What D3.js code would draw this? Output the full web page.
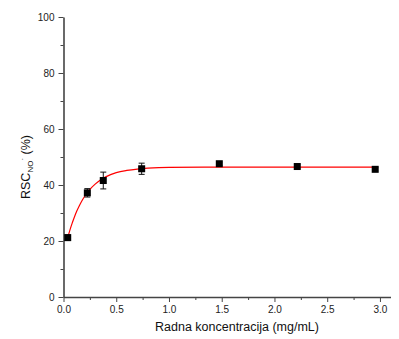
<!DOCTYPE html>
<html>
<head>
<meta charset="utf-8">
<script src="https://cdn.jsdelivr.net/npm/d3@7"></script>
<style>
  body { margin: 0; background: #fff; }
  text { font-family: "Liberation Sans", Arial, sans-serif; }
</style>
</head>
<body>
<svg width="399" height="339"></svg>
<script>
// measured points
const conc = [0.04, 0.226, 0.377, 0.741, 1.477, 2.216, 2.955];
const rsc = [21.2, 37.2, 41.6, 45.8, 47.6, 46.6, 45.6];
const rscErr = [1.0, 1.5, 3.0, 2.0, 0.6, 0.6, 0.6];

// fitted curve
const fitX = [0.04, 0.06, 0.08, 0.1, 0.125, 0.15, 0.175, 0.2, 0.25, 0.3, 0.35, 0.4, 0.5, 0.6, 0.7, 0.8, 1.0, 1.5, 2.0, 2.5, 2.96];
const fitY = [21.2, 23.8, 26.1, 28.2, 30.6, 32.6, 34.4, 35.9, 38.4, 40.3, 41.8, 42.9, 44.4, 45.2, 45.7, 46.0, 46.3, 46.4, 46.4, 46.4, 46.4];

const xTicks = [0.0, 0.5, 1.0, 1.5, 2.0, 2.5, 3.0];
const xMinor = [0.25, 0.75, 1.25, 1.75, 2.25, 2.75];
const yTicks = [0, 20, 40, 60, 80, 100];
const yMinor = [10, 30, 50, 70, 90];

const svg = d3.select("svg");
const plotLeft = 63.5, plotRight = 390.5, plotTop = 17, plotBottom = 297;

const x = d3.scaleLinear().domain([0, 3.1]).range([plotLeft, plotRight]);
const y = d3.scaleLinear().domain([0, 100]).range([plotBottom, plotTop]);

// x axis
svg.append("g").attr("transform", `translate(0,${plotBottom})`)
    .call(d3.axisBottom(x).tickValues(xTicks).tickFormat(d3.format(".1f")).tickSize(5).tickSizeOuter(0).tickPadding(4));
svg.append("g").attr("transform", `translate(0,${plotBottom})`)
    .call(d3.axisBottom(x).tickValues(xMinor).tickFormat("").tickSize(3).tickSizeOuter(0))
    .select(".domain").remove();

// y axis
svg.append("g").attr("transform", `translate(${plotLeft},0)`)
    .call(d3.axisLeft(y).tickValues(yTicks).tickSize(5).tickSizeOuter(0).tickPadding(4));
svg.append("g").attr("transform", `translate(${plotLeft},0)`)
    .call(d3.axisLeft(y).tickValues(yMinor).tickFormat("").tickSize(3).tickSizeOuter(0))
    .select(".domain").remove();

svg.selectAll(".domain").attr("stroke", "#444").attr("stroke-width", 1.6);
svg.selectAll(".tick line").attr("stroke", "#444").attr("stroke-width", 1);
svg.selectAll(".tick text").attr("font-size", 10).attr("fill", "#222")
    .attr("font-family", "Liberation Sans, Arial, sans-serif");

// axis titles
svg.append("text")
    .attr("x", 237).attr("y", 331)
    .attr("text-anchor", "middle")
    .attr("font-size", 12.5)
    .attr("fill", "#111")
    .text("Radna koncentracija (mg/mL)");

const yl = svg.append("text")
    .attr("transform", "translate(30,167) rotate(-90)")
    .attr("text-anchor", "middle")
    .attr("font-size", 12.5)
    .attr("fill", "#111");
yl.append("tspan").text("RSC");
yl.append("tspan").attr("font-size", 8).attr("dy", 3).text("NO");
yl.append("tspan").attr("font-size", 8).attr("dy", -8).text("·");
yl.append("tspan").attr("dy", 5).text(" (%)");

// fit line
const line = d3.line().x(d => x(d[0])).y(d => y(d[1])).curve(d3.curveMonotoneX);
svg.append("path")
    .datum(fitX.map((v, i) => [v, fitY[i]]))
    .attr("fill", "none")
    .attr("stroke", "#f00")
    .attr("stroke-width", 1.2)
    .attr("d", line);

// error bars
const pts = conc.map((c, i) => ({x: c, y: rsc[i], e: rscErr[i]}));
const eb = svg.append("g").attr("stroke", "#111").attr("stroke-width", 1);
eb.selectAll("line.v").data(pts).join("line").attr("class", "v")
    .attr("x1", d => x(d.x)).attr("x2", d => x(d.x))
    .attr("y1", d => y(d.y + d.e)).attr("y2", d => y(d.y - d.e));
eb.selectAll("line.t").data(pts).join("line").attr("class", "t")
    .attr("x1", d => x(d.x) - 3).attr("x2", d => x(d.x) + 3)
    .attr("y1", d => y(d.y + d.e)).attr("y2", d => y(d.y + d.e));
eb.selectAll("line.b").data(pts).join("line").attr("class", "b")
    .attr("x1", d => x(d.x) - 3).attr("x2", d => x(d.x) + 3)
    .attr("y1", d => y(d.y - d.e)).attr("y2", d => y(d.y - d.e));

// markers
svg.append("g").selectAll("rect").data(pts).join("rect")
    .attr("x", d => x(d.x) - 3.5).attr("y", d => y(d.y) - 3.5)
    .attr("width", 7).attr("height", 7)
    .attr("fill", "#000");
</script>
</body>
</html>
